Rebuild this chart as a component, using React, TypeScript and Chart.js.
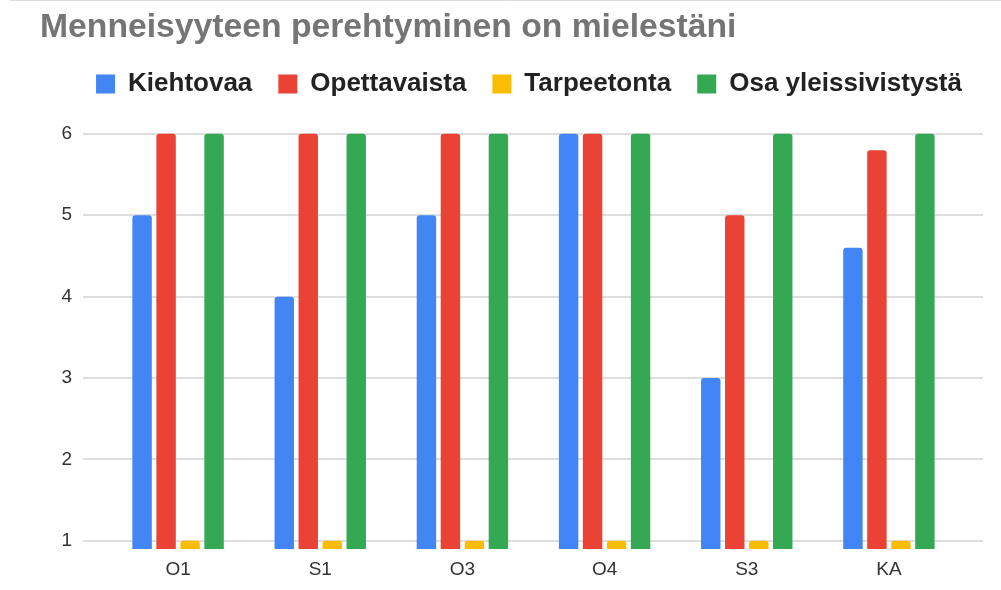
import React, { useEffect, useRef } from "react";
import { Chart, registerables } from "chart.js";

Chart.register(...registerables);

const chartTitle = "Menneisyyteen perehtyminen on mielestäni";
const categories = ["O1", "S1", "O3", "O4", "S3", "KA"];
const seriesNames = ["Kiehtovaa", "Opettavaista", "Tarpeetonta", "Osa yleissivistystä"];
const kiehtovaa = [5, 4, 5, 6, 3, 4.6];
const opettavaista = [6, 6, 6, 6, 5, 5.8];
const tarpeetonta = [1, 1, 1, 1, 1, 1];
const osaYleissivistysta = [6, 6, 6, 6, 6, 6];
const seriesColors = ["#4285F4", "#EA4335", "#FBBC04", "#34A853"];
const yTicks = [1, 2, 3, 4, 5, 6];

const FONT = "'Liberation Sans', Arial, sans-serif";

const gridPlugin = {
  id: "customGrid",
  afterLayout(chart: any) {
    const lg = chart.legend;
    if (lg) {
      lg.left += 29;
      lg.right += 29;
    }
  },
  beforeDatasetsDraw(chart: any) {
    const { ctx, chartArea, scales } = chart;
    const y = scales.y;
    ctx.save();
    ctx.strokeStyle = "#dedede";
    ctx.lineWidth = 2;
    yTicks.forEach((v) => {
      const py = Math.round(y.getPixelForValue(v));
      ctx.beginPath();
      ctx.moveTo(chartArea.left - 24, py);
      ctx.lineTo(chartArea.right + 23, py);
      ctx.stroke();
    });
    ctx.restore();
  },
  afterDraw(chart: any) {
    const { ctx, width } = chart;
    ctx.save();
    ctx.strokeStyle = "#dadce0";
    ctx.lineWidth = 1;
    ctx.beginPath();
    ctx.moveTo(10, 0.5);
    ctx.lineTo(width, 0.5);
    ctx.stroke();
    ctx.restore();
  },
};

export default function App() {
  const canvasRef = useRef<HTMLCanvasElement | null>(null);

  useEffect(() => {
    if (!canvasRef.current) return;
    const dataArrays = [kiehtovaa, opettavaista, tarpeetonta, osaYleissivistysta];
    const chart = new Chart(canvasRef.current, {
      type: "bar",
      data: {
        labels: categories,
        datasets: seriesNames.map((name, i) => ({
          label: name,
          data: dataArrays[i],
          backgroundColor: seriesColors[i],
          borderRadius: 3,
          borderSkipped: "start",
          categoryPercentage: 0.675,
          barPercentage: 0.81,
        })),
      },
      options: {
        animation: false,
        responsive: true,
        maintainAspectRatio: false,
        layout: { autoPadding: false, padding: { left: 40, right: 41, top: 0, bottom: 0 } },
        plugins: {
          title: {
            display: true,
            text: chartTitle,
            align: "start",
            color: "#757575",
            font: { family: FONT, size: 33.7, weight: "bold", lineHeight: "32px" },
            padding: { top: 12, bottom: 1 },
          },
          legend: {
            display: true,
            position: "top",
            fullSize: true,
            labels: {
              boxWidth: 19,
              boxHeight: 19,
              padding: 26,
              color: "#222222",
              font: { family: FONT, size: 26, weight: "bold" },
            },
          },
          tooltip: { enabled: false },
        },
        scales: {
          x: {
            grid: { display: false, drawTicks: false },
            border: { display: false },
            afterFit: (scale: any) => {
              scale.height = 41;
            },
            ticks: {
              color: "#333333",
              padding: 9,
              font: { family: FONT, size: 19 },
            },
          },
          y: {
            min: 0.9,
            max: 6.33,
            grid: { display: false, drawTicks: false },
            border: { display: false },
            afterBuildTicks: (scale: any) => {
              scale.ticks = yTicks.map((v) => ({ value: v }));
            },
            afterFit: (scale: any) => {
              scale.width = 67;
            },
            ticks: {
              color: "#333333",
              padding: 35,
              font: { family: FONT, size: 19, lineHeight: 0.5 },
            },
          },
        },
      },
      plugins: [gridPlugin],
    });
    return () => chart.destroy();
  }, []);

  return (
    <div style={{ position: "fixed", left: 0, top: 0, width: 1001, height: 590, background: "#ffffff" }}>
      <canvas ref={canvasRef} />
    </div>
  );
}
